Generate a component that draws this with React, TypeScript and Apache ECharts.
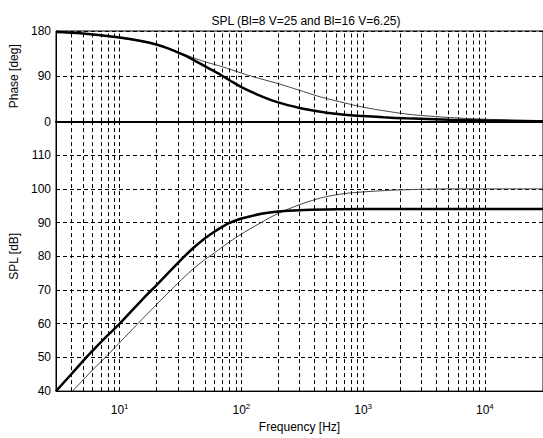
import React, { useEffect, useRef } from 'react';
import * as echarts from 'echarts';

// Frequency axis range (Hz)
const fMin = 3;
const fMax = 30000;

// Phase [deg] readings
const phaseThickHz = [3, 5, 10, 15, 20, 25, 30, 35, 40, 50, 57, 68.5, 80, 100, 150, 200, 300, 400, 500, 700, 1000, 1470, 2240, 5100, 10000, 30000];
const phaseThickDeg = [178, 175, 167, 160, 153, 145.5, 137.5, 130.3, 123, 110, 102.5, 92, 82, 68.5, 49, 38, 27, 21.3, 17.4, 13.4, 10.8, 8.3, 6.3, 3.4, 1.8, 0.6];
const phaseThinHz = [3, 5, 10, 15, 20, 25, 30, 35, 40, 50, 57, 68.5, 100, 121, 200, 300, 400, 500, 700, 1000, 1470, 2240, 3000, 5100, 10000, 30000];
const phaseThinDeg = [178, 175, 166, 159, 152.5, 145.5, 138.5, 132.5, 127, 119, 115, 109.5, 96.3, 90, 75.3, 62.1, 52.3, 45.8, 37.1, 28.5, 21.5, 15, 12, 8, 4.5, 1.5];

// SPL [dB] readings
const splThickHz = [3, 4, 5.32, 6, 8, 10, 15, 18.3, 20, 30, 40, 50, 60, 70, 80, 100, 150, 200, 300, 500, 1000, 30000];
const splThickDb = [40, 45, 50, 52, 56.6, 60, 66.8, 70, 71.4, 78, 82.4, 85.3, 87.3, 88.8, 89.9, 91.2, 92.7, 93.3, 93.7, 93.9, 94, 94];
const splThinHz = [4.1, 5, 6, 7.63, 10, 14.1, 20, 30, 40, 50, 60, 70, 80, 100, 145, 200, 300, 400, 500, 700, 1000, 1500, 2000, 5000, 30000];
const splThinDb = [40, 43.3, 46.3, 50, 54.4, 60, 65.6, 72, 76.2, 79, 81, 82.8, 84.3, 86.6, 90, 92.7, 95.3, 96.8, 97.7, 98.6, 99.1, 99.5, 99.7, 100, 100];

// vertical grid lines (Hz)
const gridHz = [
  4, 5, 6, 7, 8, 9, 10,
  20, 30, 40, 50, 60, 70, 80, 90, 100,
  200, 300, 400, 500, 600, 700, 800, 900, 1000,
  2000, 3000, 4000, 5000, 6000, 7000, 8000, 9000, 10000,
];

const titleText = 'SPL (Bl=8 V=25 and Bl=16 V=6.25)';

const zip = (xs: number[], ys: number[]) => xs.map((x, i) => [x, ys[i]]);

const FONT = '"Liberation Sans", Arial, sans-serif';

export default function App() {
  const ref = useRef<HTMLDivElement>(null);
  useEffect(() => {
    const chart = echarts.init(ref.current!, null, { renderer: 'svg' });
    const L = 56;
    const W = 495;
    const dash = { type: [4, 3] as any, color: '#000', width: 1 };
    const markLine = {
      silent: true,
      symbol: 'none',
      label: { show: false },
      lineStyle: dash,
      animation: false,
      data: gridHz.map((v) => ({ xAxis: v })),
    };
    const xCommon = {
      type: 'log',
      logBase: 10,
      min: fMin,
      max: fMax,
      splitLine: { show: false },
    };
    const lineCommon = { type: 'line', showSymbol: false, smooth: 0.4 };
    const option: any = {
      animation: false,
      backgroundColor: '#fff',
      textStyle: { fontFamily: FONT },
      title: {
        text: titleText,
        left: 301,
        textAlign: 'center',
        top: 10,
        textStyle: { fontSize: 12, fontWeight: 'normal', color: '#000', fontFamily: FONT },
      },
      grid: [
        { left: L, top: 31, width: W, height: 90.5, show: true, borderColor: '#000', borderWidth: 1, backgroundColor: '#fff' },
        { left: L, top: 121.5, width: W, height: 272.5, show: true, borderColor: '#000', borderWidth: 1, backgroundColor: '#fff' },
      ],
      xAxis: [
        {
          ...xCommon,
          gridIndex: 0,
          axisLine: { show: true, onZero: false, lineStyle: { color: '#000', width: 2 } },
          axisTick: { show: false },
          axisLabel: { show: false },
        },
        {
          ...xCommon,
          gridIndex: 1,
          axisLine: { show: true, onZero: false, lineStyle: { color: '#000', width: 1 } },
          axisTick: { show: false },
          axisLabel: {
            showMinLabel: false,
            showMaxLabel: false,
            margin: 11,
            formatter: (v: number) => `{b|10}{s|${Math.round(Math.log10(v))}}`,
            rich: {
              b: { fontSize: 12, lineHeight: 16, color: '#000', fontFamily: FONT, verticalAlign: 'middle' },
              s: { fontSize: 8, lineHeight: 16, color: '#000', fontFamily: FONT, verticalAlign: 'top' },
            },
          },
          name: 'Frequency [Hz]',
          nameLocation: 'middle',
          nameGap: 29,
          nameTextStyle: { fontSize: 12, color: '#000', fontFamily: FONT },
        },
      ],
      yAxis: [
        {
          gridIndex: 0,
          type: 'value',
          min: 0,
          max: 180,
          interval: 90,
          axisLine: { show: true, lineStyle: { color: '#000' } },
          axisTick: { show: true, inside: true, length: 4, lineStyle: { color: '#000' } },
          axisLabel: { fontSize: 12, color: '#000', margin: 5, fontFamily: FONT },
          splitLine: { show: true, lineStyle: dash },
          name: 'Phase [deg]',
          nameLocation: 'middle',
          nameGap: 31,
          nameTextStyle: { fontSize: 12, color: '#000', fontFamily: FONT },
        },
        {
          gridIndex: 1,
          type: 'value',
          min: 40,
          max: 120,
          interval: 10,
          axisLine: { show: true, lineStyle: { color: '#000' } },
          axisTick: { show: true, inside: true, length: 4, lineStyle: { color: '#000' } },
          axisLabel: { fontSize: 12, color: '#000', margin: 5, showMaxLabel: false, fontFamily: FONT },
          splitLine: { show: true, lineStyle: dash },
          name: 'SPL [dB]',
          nameLocation: 'middle',
          nameGap: 31,
          nameTextStyle: { fontSize: 12, color: '#000', fontFamily: FONT },
        },
      ],
      series: [
        { type: 'line', xAxisIndex: 0, yAxisIndex: 0, data: [], z: 1, markLine },
        { type: 'line', xAxisIndex: 1, yAxisIndex: 1, data: [], z: 1, markLine },
        {
          ...lineCommon, xAxisIndex: 0, yAxisIndex: 0, z: 3,
          data: zip(phaseThinHz, phaseThinDeg), lineStyle: { color: '#444', width: 1 },
        },
        {
          ...lineCommon, xAxisIndex: 0, yAxisIndex: 0, z: 4,
          data: zip(phaseThickHz, phaseThickDeg), lineStyle: { color: '#000', width: 2.5 },
        },
        {
          ...lineCommon, xAxisIndex: 1, yAxisIndex: 1, z: 3,
          data: zip(splThinHz, splThinDb), lineStyle: { color: '#444', width: 1 },
        },
        {
          ...lineCommon, xAxisIndex: 1, yAxisIndex: 1, z: 4,
          data: zip(splThickHz, splThickDb), lineStyle: { color: '#000', width: 2.5 },
        },
      ],
    };
    chart.setOption(option);
    return () => chart.dispose();
  }, []);
  return (
    <div
      ref={ref}
      style={{ position: 'fixed', left: 0, top: 0, width: 543, height: 438, background: '#fff' }}
    />
  );
}
